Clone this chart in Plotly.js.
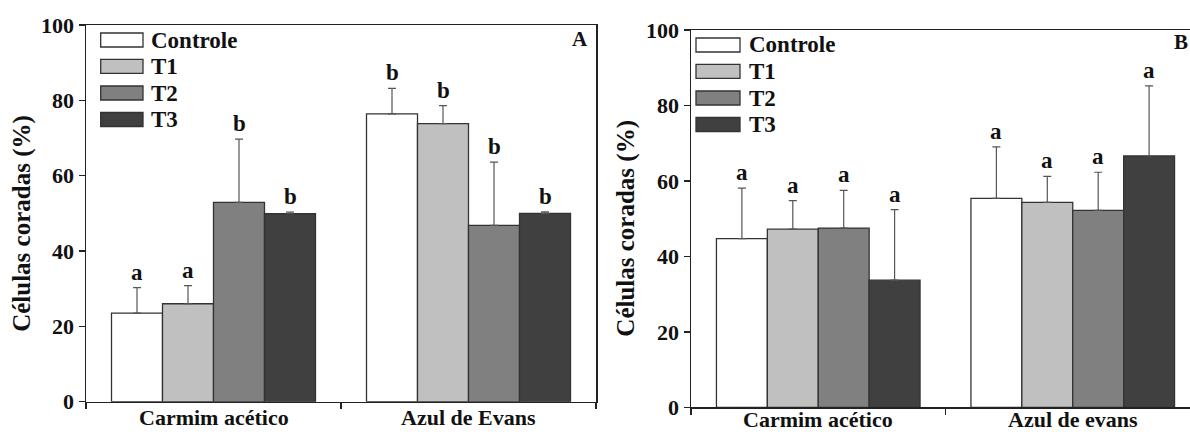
<!DOCTYPE html>
<html>
<head>
<meta charset="utf-8">
<script src="https://cdn.plot.ly/plotly-3.0.1.min.js"></script>
<style>
html,body{margin:0;padding:0;overflow:hidden;background:#fff;}
#chart{width:1210px;height:432px;}
</style>
</head>
<body>
<div id="chart"></div>
<script>
// ---- data ----
const categoriesA = ['Carmim acético', 'Azul de Evans'];
const categoriesB = ['Carmim acético', 'Azul de evans'];
const seriesNames = ['Controle', 'T1', 'T2', 'T3'];
const seriesColors = ['#ffffff', '#c0c0c0', '#808080', '#404040'];

// Panel A
const A_controle = [23.5, 76.4];
const A_controle_err = [6.8, 6.8];
const A_t1 = [26.0, 73.8];
const A_t1_err = [4.8, 4.8];
const A_t2 = [52.9, 46.8];
const A_t2_err = [16.8, 16.8];
const A_t3 = [49.9, 50.0];
const A_t3_err = [0.4, 0.4];
const A_letters_controle = ['a', 'b'];
const A_letters_t1 = ['a', 'b'];
const A_letters_t2 = ['b', 'b'];
const A_letters_t3 = ['b', 'b'];

// Panel B
const B_controle = [44.7, 55.4];
const B_controle_err = [13.4, 13.6];
const B_t1 = [47.2, 54.3];
const B_t1_err = [7.6, 6.9];
const B_t2 = [47.5, 52.2];
const B_t2_err = [10.0, 10.1];
const B_t3 = [33.7, 66.6];
const B_t3_err = [18.7, 18.6];
const B_letters_controle = ['a', 'a'];
const B_letters_t1 = ['a', 'a'];
const B_letters_t2 = ['a', 'a'];
const B_letters_t3 = ['a', 'a'];

const yTickVals = [0, 20, 40, 60, 80, 100];
const yTitle = 'Células coradas (%)';

// ---- build ----
const FONT = 'Liberation Serif, Times New Roman, serif';
const W = 1210, H = 432;
const BARGAP = 0.2;

const panels = [
  {xa: 'x', ya: 'y', cats: categoriesA,
   vals: [A_controle, A_t1, A_t2, A_t3],
   errs: [A_controle_err, A_t1_err, A_t2_err, A_t3_err],
   letters: [A_letters_controle, A_letters_t1, A_letters_t2, A_letters_t3],
   px: [86, 596], py: [25, 401.7], tag: 'A'},
  {xa: 'x2', ya: 'y2', cats: categoriesB,
   vals: [B_controle, B_t1, B_t2, B_t3],
   errs: [B_controle_err, B_t1_err, B_t2_err, B_t3_err],
   letters: [B_letters_controle, B_letters_t1, B_letters_t2, B_letters_t3],
   px: [691, 1200], py: [30, 407.3], tag: 'B'}
];

const traces = [];
const annotations = [];
const shapes = [];

panels.forEach((p, pi) => {
  p.vals.forEach((v, k) => {
    traces.push({
      type: 'bar', x: p.cats, y: v, name: seriesNames[k],
      xaxis: p.xa, yaxis: p.ya, showlegend: false,
      marker: {color: seriesColors[k], line: {color: '#333333', width: 1.3}},
      error_y: {type: 'data', array: p.errs[k], arrayminus: v.map(() => 0),
                symmetric: false, color: '#555555', thickness: 1.2, width: 4}
    });
    // significance letters above error bars
    const off = (k - 1.5) * (1 - BARGAP) / 4;
    v.forEach((val, i) => {
      annotations.push({
        xref: p.xa, yref: p.ya, x: i + off, y: val + p.errs[k][i],
        text: p.letters[k][i], showarrow: false, yanchor: 'bottom', yshift: 1,
        font: {family: FONT, size: 23, color: '#111', weight: 'bold'}
      });
    });
  });
  const dw = p.px[1] - p.px[0], dh = p.py[1] - p.py[0];
  // category labels under the axis
  p.cats.forEach((c, i) => {
    annotations.push({
      xref: p.xa, yref: 'paper', x: i, y: 0, yanchor: 'bottom', yshift: pi === 0 ? 1 : -1,
      borderpad: 0, showarrow: false, text: c,
      font: {family: FONT, size: 22, color: '#111', weight: 'bold'}
    });
  });
  // manual legend boxes
  const legX0 = pi === 0 ? 100.7 : 696;
  const legX1 = pi === 0 ? 143 : 740;
  const legT = pi === 0 ? 149 : 747;
  const rowOff = [15, 41.3, 68, 94.5];
  seriesNames.forEach((nm, k) => {
    const cy = p.py[0] + rowOff[k];
    shapes.push({
      type: 'rect', xref: p.xa + ' domain', yref: p.ya + ' domain',
      x0: (legX0 - p.px[0]) / dw, x1: (legX1 - p.px[0]) / dw,
      y0: (p.py[1] - (cy - 7)) / dh, y1: (p.py[1] - (cy + 7)) / dh,
      fillcolor: seriesColors[k], line: {color: '#333333', width: 1.3}
    });
    annotations.push({
      xref: p.xa + ' domain', yref: p.ya + ' domain',
      x: (legT - p.px[0]) / dw, y: (p.py[1] - cy) / dh,
      xanchor: 'left', yanchor: 'middle', showarrow: false, text: nm,
      font: {family: FONT, size: 23, color: '#111', weight: 'bold'}
    });
  });
  // panel tag
  annotations.push({
    xref: p.xa + ' domain', yref: p.ya + ' domain',
    x: pi === 0 ? (589 - p.px[0]) / dw : (1189 - p.px[0]) / dw,
    y: pi === 0 ? (p.py[1] - 39.5) / dh : (p.py[1] - 42) / dh,
    xanchor: 'right', yanchor: 'middle', showarrow: false, borderpad: 0,
    text: p.tag, font: {family: FONT, size: 21, color: '#111', weight: 'bold'}
  });
  // y-axis title
  annotations.push({
    xref: 'paper', yref: 'paper',
    x: (pi === 0 ? 22.5 : 626) / W, y: 1 - ((p.py[0] + p.py[1]) / 2 + 10) / H,
    xanchor: 'center', yanchor: 'middle', textangle: -90, showarrow: false,
    text: yTitle, font: {family: FONT, size: 25, color: '#111', weight: 'bold'}
  });
});

function xAxis(p) {
  return {
    domain: [p.px[0] / W, p.px[1] / W], anchor: p.ya, type: 'category',
    range: [-0.5, 1.5], showline: true, linecolor: '#222', linewidth: 1.5,
    mirror: true, ticks: 'outside', tickson: 'boundaries', ticklen: 6,
    tickcolor: '#222', tickwidth: 1.5, showgrid: false, zeroline: false,
    showticklabels: false, fixedrange: true
  };
}
function yAxis(p) {
  return {
    domain: [1 - p.py[1] / H, 1 - p.py[0] / H], anchor: p.xa, range: [0, 100],
    tickvals: yTickVals, showline: true, linecolor: '#222', linewidth: 1.5,
    mirror: true, ticks: 'outside', ticklen: 6, tickcolor: '#222', tickwidth: 1.5,
    showgrid: false, zeroline: false,
    tickfont: {family: FONT, size: 22, color: '#111', weight: 'bold'}, fixedrange: true
  };
}

const layout = {
  width: W, height: H, margin: {l: 0, r: 0, t: 0, b: 0},
  paper_bgcolor: '#fff', plot_bgcolor: '#fff',
  barmode: 'group', bargap: BARGAP, bargroupgap: 0, showlegend: false,
  xaxis: xAxis(panels[0]), yaxis: yAxis(panels[0]),
  xaxis2: xAxis(panels[1]), yaxis2: yAxis(panels[1]),
  annotations: annotations, shapes: shapes,
  font: {family: FONT}
};

Plotly.newPlot('chart', traces, layout, {displayModeBar: false, staticPlot: true});
</script>
</body>
</html>
